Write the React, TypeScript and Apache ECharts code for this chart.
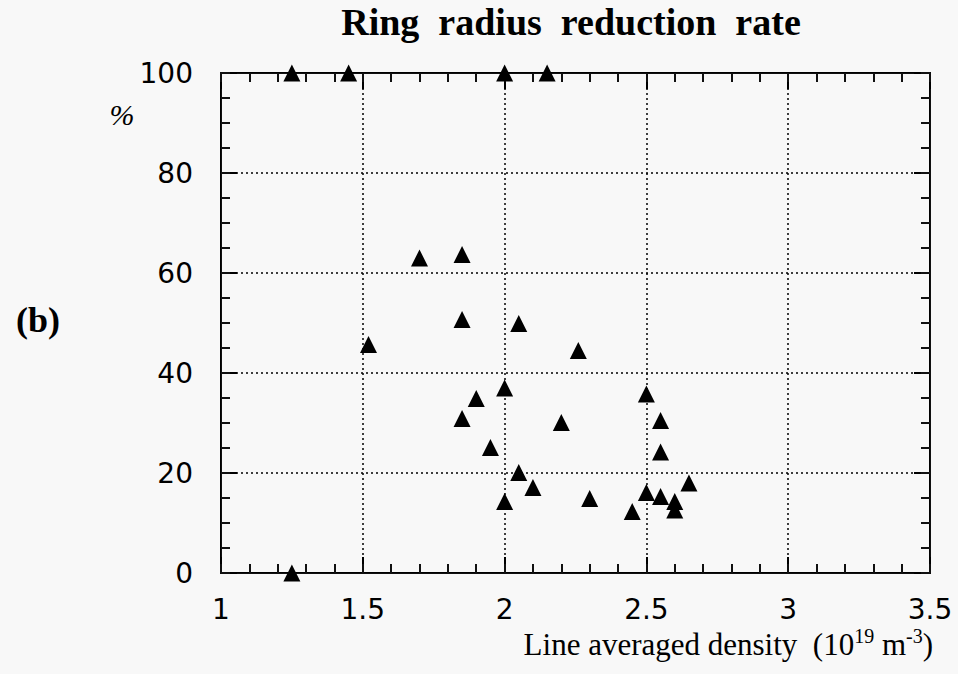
import React, { useEffect, useRef } from "react";
import * as echarts from "echarts";

// Line averaged density (10^19 m^-3)
const density = [
  1.25, 1.45, 2.0, 2.15, 1.25, 1.7, 1.85, 1.85, 1.52, 2.05, 2.26, 2.0, 1.9, 1.85, 2.2,
  1.95, 2.5, 2.55, 2.55, 2.05, 2.1, 2.0, 2.3, 2.65, 2.5, 2.55, 2.6, 2.6, 2.45,
];
// Ring radius reduction rate (%)
const reduction = [
  100, 100, 100, 100, 0, 63, 63.7, 50.7, 45.7, 49.9, 44.5, 37, 34.9, 30.9, 30.1,
  25.1, 35.8, 30.5, 24.2, 20.1, 17.1, 14.3, 14.9, 18, 16.1, 15.3, 14.3, 12.6, 12.3,
];
const xTicks = [1, 1.5, 2, 2.5, 3, 3.5];
const yTicks = [0, 20, 40, 60, 80, 100];
const xMinorStep = 0.1;
const yMinorStep = 5;

const titleText = "Ring  radius  reduction  rate";
const panelLabel = "(b)";
const yUnit = "%";

export default function App() {
  const ref = useRef<HTMLDivElement>(null);
  useEffect(() => {
    if (!ref.current) return;
    const chart = echarts.init(ref.current, null, { renderer: "svg" });
    const points = density.map((d, i) => [d, reduction[i]]);
    const sans = "'DejaVu Sans', 'Liberation Sans', sans-serif";
    const serif = "'Liberation Serif', 'Times New Roman', serif";
    const xMin = xTicks[0];
    const xMax = xTicks[xTicks.length - 1];
    const yMin = yTicks[0];
    const yMax = yTicks[yTicks.length - 1];
    const black = "#000000";
    const gridLine = { show: true, lineStyle: { color: black, width: 1.5, type: [2, 3] } };
    const majorAxis = (position: string, interval: number, min: number, max: number, labels: boolean, split: boolean, margin: number) => ({
      type: "value",
      min,
      max,
      interval,
      position,
      axisLine: { show: true, onZero: false, lineStyle: { color: black, width: 2 } },
      axisTick: { show: true, inside: true, length: 16, lineStyle: { color: black, width: 2 } },
      axisLabel: labels
        ? { show: true, fontFamily: sans, fontSize: 28, color: black, margin }
        : { show: false },
      splitLine: split ? gridLine : { show: false },
    });
    const minorAxis = (position: string, interval: number, min: number, max: number) => ({
      type: "value",
      min,
      max,
      interval,
      position,
      axisLine: { show: true, onZero: false, lineStyle: { color: "#111111", width: 1 } },
      axisTick: { show: true, inside: true, length: 9, lineStyle: { color: "#111111", width: 2 } },
      axisLabel: { show: false },
      splitLine: { show: false },
    });
    chart.setOption({
      animation: false,
      backgroundColor: "#f8f8f8",
      grid: { left: 221, right: 28, top: 73, bottom: 101, containLabel: false },
      graphic: [
        {
          type: "text",
          x: 571,
          y: 22,
          style: {
            text: titleText,
            font: `bold 38px ${serif}`,
            fill: black,
            align: "center",
            verticalAlign: "middle",
          },
        },
        {
          type: "text",
          x: 122,
          y: 114,
          style: {
            text: yUnit,
            font: `italic 30px ${serif}`,
            fill: black,
            align: "center",
            verticalAlign: "middle",
          },
        },
        {
          type: "text",
          x: 38,
          y: 320,
          style: {
            text: panelLabel,
            font: `bold 36px ${serif}`,
            fill: black,
            align: "center",
            verticalAlign: "middle",
          },
        },
        {
          type: "text",
          x: 933,
          y: 643,
          style: {
            text: "{a|Line averaged density  (10}{s|19}{a| m}{s|-3}{a|)}",
            align: "right",
            verticalAlign: "middle",
            rich: {
              a: { fontFamily: serif, fontSize: 31, color: black, lineHeight: 34, verticalAlign: "bottom" },
              s: { fontFamily: serif, fontSize: 20, color: black, lineHeight: 20, verticalAlign: "top" },
            },
          },
        },
      ],
      xAxis: [
        majorAxis("bottom", 0.5, xMin, xMax, true, true, 22),
        majorAxis("top", 0.5, xMin, xMax, false, false, 0),
        minorAxis("bottom", xMinorStep, xMin, xMax),
        minorAxis("top", xMinorStep, xMin, xMax),
      ],
      yAxis: [
        majorAxis("left", 20, yMin, yMax, true, true, 28),
        majorAxis("right", 20, yMin, yMax, false, false, 0),
        minorAxis("left", yMinorStep, yMin, yMax),
        minorAxis("right", yMinorStep, yMin, yMax),
      ],
      series: [
        {
          type: "scatter",
          xAxisIndex: 0,
          yAxisIndex: 0,
          data: points,
          symbol: "triangle",
          symbolSize: 17,
          clip: false,
          itemStyle: { color: black, opacity: 1 },
          emphasis: { disabled: true },
        },
      ],
    });
    return () => chart.dispose();
  }, []);
  return (
    <div
      ref={ref}
      style={{ position: "fixed", left: 0, top: 0, width: 958, height: 674 }}
    />
  );
}
